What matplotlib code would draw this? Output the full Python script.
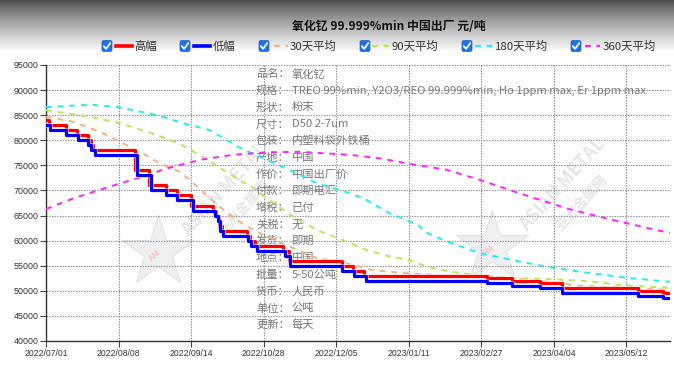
import numpy as np
import matplotlib
matplotlib.use('Agg')
import matplotlib.pyplot as plt
from matplotlib.patches import FancyBboxPatch
import matplotlib.patheffects as pe

plt.rcParams['font.family'] = ['Noto Sans CJK SC', 'DejaVu Sans']

# ---------------- data ----------------
title = "氧化钇 99.999%min 中国出厂 元/吨"
n_days = 224  # trading-day index 0..223
tick_idx = [0, 26, 52, 78, 104, 130, 156, 182, 208]
tick_labels = ["2022/07/01", "2022/08/08", "2022/09/14", "2022/10/28", "2022/12/05",
               "2023/01/11", "2023/02/27", "2023/04/04", "2023/05/12"]
yticks = [40000, 45000, 50000, 55000, 60000, 65000, 70000, 75000, 80000, 85000, 90000, 95000]

# step series: index where a new price starts, and the price
high_idx = [0, 1, 7, 11, 15, 16, 17, 32, 37, 43, 47, 52, 60, 61, 62, 63, 72, 73, 75, 85, 87,
            106, 110, 114, 158, 167, 177, 185, 212, 221]
high_val = [84000, 83000, 82000, 81000, 80000, 79000, 78000, 74000, 71000, 70000, 69000, 67000,
            66000, 65000, 63000, 62000, 61000, 60000, 59000, 58000, 56000, 55000, 54000, 53000,
            52500, 52000, 51500, 50500, 50000, 49500]
low_idx = [0, 1.5, 7, 11.5, 15, 16, 17.5, 32.5, 37.5, 43, 47, 52.5, 60.5, 61.5, 62.5, 63.5, 72.5,
           73.5, 75.5, 85.5, 87.5, 106, 110.5, 114.5, 158, 167, 177, 185, 212, 221]
low_val = [83000, 82000, 81000, 80000, 79000, 78000, 77000, 73000, 70000, 69000, 68000, 66000,
           65000, 64000, 62000, 61000, 60000, 59000, 58000, 57000, 55000, 54000, 53000, 52000,
           51500, 51000, 50500, 49500, 49000, 48500]

ma30_idx = [0, 9.7, 19.3, 26.5, 33.7, 40.8, 48, 52.3, 58, 64.9, 72, 79.2, 87.4, 97.1, 105.3,
            117.2, 129.3, 141.2, 159.1, 180.6, 191.3, 208.2, 223.6]
ma30_val = [84700, 83700, 81700, 79700, 77700, 75400, 73700, 71700, 68800, 65500, 62800, 60800,
            58800, 56500, 55800, 54100, 53500, 53100, 52800, 51800, 51000, 50600, 50200]

ma90_idx = [0, 15.8, 26.5, 37.3, 48, 55.2, 62.3, 69.5, 75, 78.5, 88.5, 97.1, 106.4, 115, 123.3,
            129.3, 136.5, 144.8, 155.5, 168.8, 181.7, 194.9, 206.7, 223.6]
ma90_val = [86000, 84700, 83400, 81500, 79300, 77000, 74500, 72000, 70300, 68700, 64800, 62100,
            60100, 58100, 56800, 56300, 54800, 53800, 53100, 52500, 52300, 51900, 51100, 50600]

ma180_idx = [0, 15.8, 25.8, 31.2, 39.8, 49.1, 58.8, 63.4, 69.5, 76.7, 84.9, 91, 97.1, 105.3,
             113.6, 123.3, 129.3, 134, 135.1, 143.7, 155.5, 167.3, 179.5, 191.3, 208.2, 223.6]
ma180_val = [86600, 87100, 86600, 86000, 85000, 83400, 82000, 80500, 78500, 76700, 74700, 73100,
             71400, 70100, 68500, 65400, 64100, 62900, 61900, 59800, 57500, 56100, 54800, 53800,
             52600, 51800]

ma360_idx = [0, 9.7, 21.9, 33.7, 43.4, 55.2, 67, 79.2, 91, 108.9, 119.7, 129.3, 143.7, 155.5,
             169.8, 186.7, 203.2, 223.6]
ma360_val = [66300, 68400, 70600, 72600, 74400, 76100, 77100, 77600, 77700, 77100, 76400, 75400,
             74100, 72100, 69400, 66400, 64100, 61500]

series_names = ["高幅", "低幅", "30天平均", "90天平均", "180天平均", "360天平均"]
series_colors = ["#ff0000", "#0000ff", "#f4b183", "#b5e853", "#22eeee", "#ff22ff"]

info_labels = ["品名：", "规格：", "形状：", "尺寸：", "包装：", "产地：", "作价：", "付款：",
               "增税：", "关税：", "发货：", "地点：", "批量：", "货币：", "单位：", "更新："]
info_values = ["氧化钇", "TREO 99%min, Y2O3/REO 99.999%min, Ho 1ppm max, Er 1ppm max", "粉末",
               "D50 2-7um", "内塑料袋外铁桶", "中国", "中国出厂价", "即期电汇", "已付", "无",
               "即期", "中国", "5-50公吨", "人民币", "公吨", "每天"]

# ---------------- figure ----------------
W, H = 674, 372
fig = plt.figure(figsize=(W / 100, H / 100), dpi=100, facecolor='white')

# background / overlay axes in pixel coordinates
bg = fig.add_axes([0, 0, 1, 1], zorder=0)
bg.set_xlim(0, W)
bg.set_ylim(H, 0)
bg.axis('off')

# header gradient
t = np.linspace(0, 1, 120)
grad = 0.30 + 0.70 * t ** 0.85
bg.imshow(np.repeat(grad[:, None], 2, axis=1), cmap='gray', vmin=0, vmax=1,
          extent=[0, W, 52, 0], aspect='auto', interpolation='bilinear')

bg.text(389, 27, title, ha='center', va='center', fontsize=8.6, fontweight='bold',
        color='#111111')

# legend
leg_cb = [107, 185, 264, 365, 467, 576]
leg_line = [(116, 132), (194, 210), (274, 288), (372, 389), (475, 492), (585, 600)]
leg_txt = [134, 213, 290, 392, 495, 603]
ly = 46
for i, name in enumerate(series_names):
    cx = leg_cb[i]
    bg.add_patch(FancyBboxPatch((cx - 5, ly - 5.5), 10, 11,
                                boxstyle="round,pad=0,rounding_size=1.8",
                                fc='#1a73e8', ec='#1a60c8', lw=0.5))
    bg.plot([cx - 3.2, cx - 0.9, cx + 3.3], [ly + 0.2, ly + 2.8, ly - 2.9],
            color='white', lw=1.3, solid_capstyle='round')
    x0, x1 = leg_line[i]
    if i < 2:
        bg.plot([x0, x1], [ly, ly], color=series_colors[i], lw=2.6)
    else:
        bg.plot([x0, x1], [ly, ly], color=series_colors[i], lw=1.6, dashes=(2.6, 2.6))
    bg.text(leg_txt[i], ly + 0.5, name, ha='left', va='center', fontsize=8.2, color='#333333')

# watermarks (behind the plot lines)
for (sx, sy, tx, ty) in [(158, 252, 224, 190), (492, 247, 562, 185)]:
    bg.plot([sx], [sy], marker='*', markersize=54, color='#efefef', mec='#e2e2e2', mew=0.8)
    bg.text(sx - 4, sy + 4, "AM", fontsize=6, color='#f2c8c8', rotation=40,
            ha='center', va='center', fontweight='bold')
    bg.text(tx, ty, "ASIAN METAL", fontsize=13, color='#e6e6e6', rotation=48,
            ha='center', va='center', fontweight='bold')
    bg.text(tx + 20, ty + 18, "亚洲金属网", fontsize=10, color='#e6e6e6', rotation=48,
            ha='center', va='center', fontweight='bold')

# info text block
for i, (lab, val) in enumerate(zip(info_labels, info_values)):
    yy = 74 + 16.73 * i
    bg.text(256, yy, lab, ha='left', va='center', fontsize=8.1, color='#777777')
    bg.text(291.5, yy, val, ha='left', va='center', fontsize=8.1, color='#777777')

# main axes
left, right, top, bottom = 46, 670, 65, 341
ax = fig.add_axes([left / W, (H - bottom) / H, (right - left) / W, (bottom - top) / H], zorder=1)
ax.set_facecolor('none')

glow = [pe.Stroke(linewidth=3.6, foreground='white', alpha=0.55), pe.Normal()]
ax.plot(high_idx + [n_days - 1], high_val + [high_val[-1]], drawstyle='steps-post',
        color=series_colors[0], lw=2.3, path_effects=glow, zorder=5)
ax.plot(low_idx + [n_days - 1], low_val + [low_val[-1]], drawstyle='steps-post',
        color=series_colors[1], lw=2.3, path_effects=glow, zorder=5)

for xs, ys, c in [(ma30_idx, ma30_val, series_colors[2]), (ma90_idx, ma90_val, series_colors[3]),
                  (ma180_idx, ma180_val, series_colors[4]), (ma360_idx, ma360_val, series_colors[5])]:
    ax.plot(xs, ys, color=c, lw=1.4, dashes=(3.0, 3.0), zorder=4)

ax.set_xlim(0, 223.6)
ax.set_ylim(40000, 95000)
ax.set_yticks(yticks)
ax.set_yticklabels([str(v) for v in yticks], fontsize=6.4, color='#333333',
                   family=['Liberation Sans', 'DejaVu Sans'])
ax.set_xticks(tick_idx)
ax.set_xticklabels(tick_labels, fontsize=6.2, color='#333333',
                   family=['Liberation Sans', 'DejaVu Sans'])
ax.tick_params(axis='both', direction='out', length=4, width=0.8, color='#444444', pad=1.5)
ax.grid(True, color='#888888', linestyle=(0, (1.2, 1.2)), lw=0.8)
ax.set_axisbelow(True)
for s in ['top', 'right']:
    ax.spines[s].set_visible(False)
for s in ['left', 'bottom']:
    ax.spines[s].set_color('#333333')
    ax.spines[s].set_linewidth(1.0)

fig.savefig('out.png', dpi=100, facecolor='white')
